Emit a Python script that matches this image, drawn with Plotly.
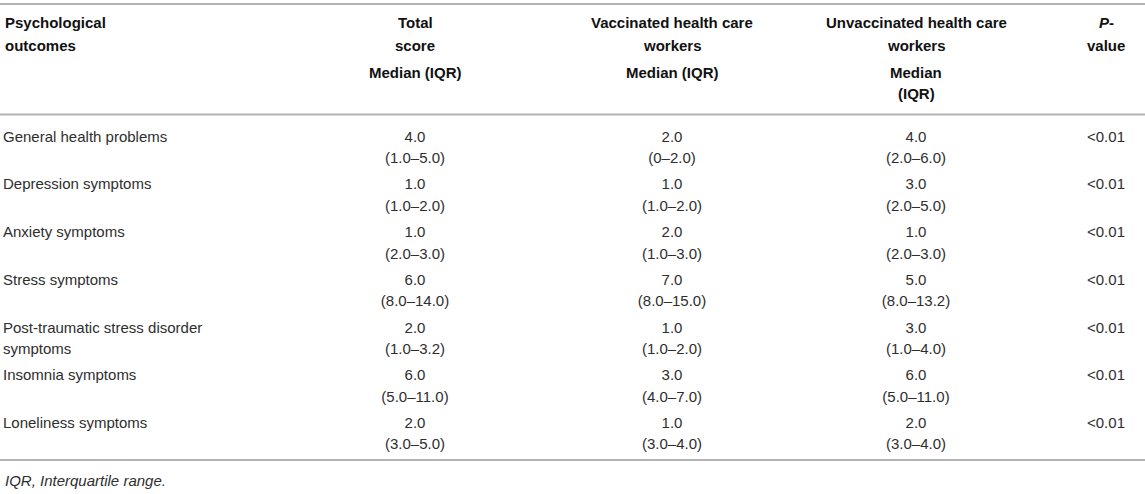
import plotly.graph_objects as go

# ---- data ----
outcomes = ["General health problems", "Depression symptoms", "Anxiety symptoms",
            "Stress symptoms", "Post-traumatic stress disorder<br>symptoms",
            "Insomnia symptoms", "Loneliness symptoms"]
total_median = [4.0, 1.0, 1.0, 6.0, 2.0, 6.0, 2.0]
total_iqr = ["1.0–5.0", "1.0–2.0", "2.0–3.0", "8.0–14.0", "1.0–3.2", "5.0–11.0", "3.0–5.0"]
vacc_median = [2.0, 1.0, 2.0, 7.0, 1.0, 3.0, 1.0]
vacc_iqr = ["0–2.0", "1.0–2.0", "1.0–3.0", "8.0–15.0", "1.0–2.0", "4.0–7.0", "3.0–4.0"]
unvacc_median = [4.0, 3.0, 1.0, 5.0, 3.0, 6.0, 2.0]
unvacc_iqr = ["2.0–6.0", "2.0–5.0", "2.0–3.0", "8.0–13.2", "1.0–4.0", "5.0–11.0", "3.0–4.0"]
p_values = ["<0.01"] * 7

header_outcome = ["Psychological", "outcomes"]
header_total = ["Total", "score", "Median (IQR)"]
header_vacc = ["Vaccinated health care", "workers", "Median (IQR)"]
header_unvacc = ["Unvaccinated health care", "workers", "Median", "(IQR)"]
header_p = ["<i>P</i>-", "value"]
footnote = "<i>IQR, Interquartile range.</i>"

# ---- layout ----
W, H = 1145, 494
FONT = "Liberation Sans, Arial, Helvetica, sans-serif"
FS = 15
BODY = "#2e2e2e"
HEAD = "#111111"
RULE = "#b3b3b3"

X_LEFT = 3
X_TOTAL = 415
X_VACC = 672
X_UNVACC = 916
X_P = 1106

ROW0 = 138
PITCH = 47.7
LINE = 21.5
HEAD_Y = [22, 45, 72, 93]

fig = go.Figure()

row_y = [ROW0 + i * PITCH for i in range(len(outcomes))]

# outcome labels (split multi-line)
lab_x, lab_y, lab_t = [], [], []
for y, name in zip(row_y, outcomes):
    for k, part in enumerate(name.split("<br>")):
        lab_x.append(X_LEFT)
        lab_y.append(y + k * LINE)
        lab_t.append(part)
fig.add_trace(go.Scatter(x=lab_x, y=lab_y, text=lab_t, mode="text",
                         textposition="middle right",
                         textfont=dict(family=FONT, size=FS, color=BODY),
                         hoverinfo="skip", showlegend=False))


def add_col(xc, med, iqr):
    xs, ys, ts = [], [], []
    for y, m, q in zip(row_y, med, iqr):
        xs += [xc, xc]
        ys += [y, y + LINE]
        ts += [f"{m:.1f}", f"({q})"]
    fig.add_trace(go.Scatter(x=xs, y=ys, text=ts, mode="text",
                             textposition="middle center",
                             textfont=dict(family=FONT, size=FS, color=BODY),
                             hoverinfo="skip", showlegend=False))


add_col(X_TOTAL, total_median, total_iqr)
add_col(X_VACC, vacc_median, vacc_iqr)
add_col(X_UNVACC, unvacc_median, unvacc_iqr)

fig.add_trace(go.Scatter(x=[X_P] * len(p_values), y=row_y, text=p_values, mode="text",
                         textposition="middle center",
                         textfont=dict(family=FONT, size=FS, color=BODY),
                         hoverinfo="skip", showlegend=False))

# header
annotations = []


def head(xc, lines, anchor="center"):
    for k, t in enumerate(lines):
        annotations.append(dict(x=xc, y=HEAD_Y[k], xref="x", yref="y", text=f"<b>{t}</b>",
                                showarrow=False, xanchor=anchor, yanchor="middle",
                                font=dict(family=FONT, size=FS, color=HEAD)))


head(X_LEFT, header_outcome, "left")
head(X_TOTAL, header_total)
head(X_VACC, header_vacc)
head(X_UNVACC, header_unvacc)
head(X_P, header_p)

annotations.append(dict(x=X_LEFT, y=480, xref="x", yref="y", text=footnote, showarrow=False,
                        xanchor="left", yanchor="middle",
                        font=dict(family=FONT, size=15, color=BODY)))

shapes = []
for yy in [4, 114.5, 460]:
    shapes.append(dict(type="line", xref="x", yref="y", x0=0, x1=W, y0=yy, y1=yy,
                       line=dict(color=RULE, width=2)))

fig.update_layout(
    width=W, height=H,
    margin=dict(l=0, r=0, t=0, b=0),
    paper_bgcolor="white", plot_bgcolor="white",
    hovermode=False,
    xaxis=dict(range=[0, W], visible=False, fixedrange=True),
    yaxis=dict(range=[H, 0], visible=False, fixedrange=True),
    annotations=annotations, shapes=shapes,
)

fig.write_html("out.html", config={"displayModeBar": False},
               post_script="document.body.style.margin='0px';")
